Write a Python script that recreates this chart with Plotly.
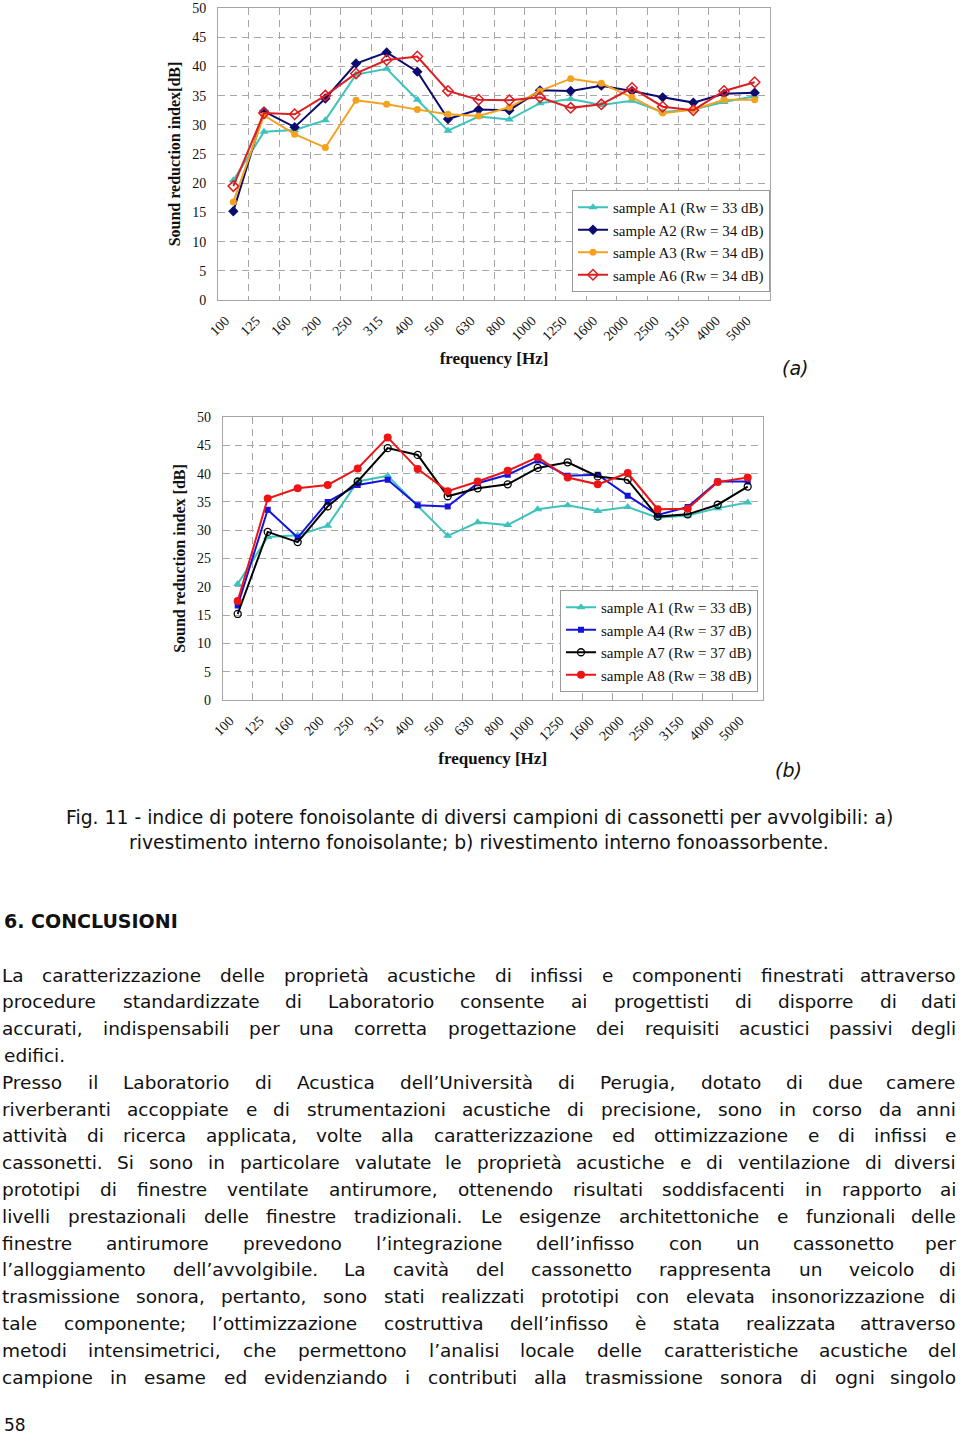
import plotly.graph_objects as go

W, H = 960, 1436

# ---------------- data ----------------
freqs = ['100', '125', '160', '200', '250', '315', '400', '500', '630', '800',
         '1000', '1250', '1600', '2000', '2500', '3150', '4000', '5000']

a1 = [20.5, 28.8, 29.1, 30.8, 38.6, 39.6, 34.3, 29.0, 31.4, 30.9,
      33.7, 34.4, 33.4, 34.1, 32.2, 32.6, 33.9, 34.9]
a2 = [15.2, 32.3, 29.6, 34.5, 40.5, 42.4, 39.1, 31.0, 32.6, 32.5,
      35.9, 35.8, 36.7, 35.8, 34.7, 33.8, 35.3, 35.5]
a3 = [16.8, 31.6, 28.4, 26.1, 34.2, 33.5, 32.6, 31.8, 31.5, 33.0,
      35.8, 37.9, 37.1, 34.7, 32.0, 32.6, 34.3, 34.3]
a6 = [19.5, 32.0, 31.8, 35.0, 38.8, 41.1, 41.7, 35.8, 34.3, 34.2,
      34.7, 32.9, 33.5, 36.3, 33.1, 32.5, 35.8, 37.3]

a4 = [16.7, 33.6, 28.7, 35.0, 38.0, 38.9, 34.4, 34.2, 38.3, 39.8,
      42.3, 39.6, 39.8, 36.1, 32.7, 34.1, 38.6, 38.6]
a7 = [15.2, 29.7, 27.9, 34.2, 38.6, 44.5, 43.3, 36.0, 37.4, 38.1,
      41.0, 42.0, 39.5, 38.9, 32.4, 32.8, 34.5, 37.7]
a8 = [17.5, 35.6, 37.4, 38.0, 40.9, 46.4, 40.8, 36.9, 38.6, 40.5,
      42.9, 39.3, 38.1, 40.1, 33.7, 33.8, 38.5, 39.3]

names_a = ['sample A1 (Rw = 33 dB)', 'sample A2 (Rw = 34 dB)',
           'sample A3 (Rw = 34 dB)', 'sample A6 (Rw = 34 dB)']
names_b = ['sample A1 (Rw = 33 dB)', 'sample A4 (Rw = 37 dB)',
           'sample A7 (Rw = 37 dB)', 'sample A8 (Rw = 38 dB)']

y_title_a = 'Sound reduction index[dB]'
y_title_b = 'Sound reduction index [dB]'
x_title = 'frequency [Hz]'

caption = ['Fig. 11 - indice di potere fonoisolante di diversi campioni di cassonetti per avvolgibili: a)',
           'rivestimento interno fonoisolante; b) rivestimento interno fonoassorbente.']
heading = '6. CONCLUSIONI'
body = [
    ('La caratterizzazione delle proprietà acustiche di infissi e componenti finestrati attraverso', True),
    ('procedure standardizzate di Laboratorio consente ai progettisti di disporre di dati', True),
    ('accurati, indispensabili per una corretta progettazione dei requisiti acustici passivi degli', True),
    ('edifici.', False),
    ('Presso il Laboratorio di Acustica dell’Università di Perugia, dotato di due camere', True),
    ('riverberanti accoppiate e di strumentazioni acustiche di precisione, sono in corso da anni', True),
    ('attività di ricerca applicata, volte alla caratterizzazione ed ottimizzazione e di infissi e', True),
    ('cassonetti. Si sono in particolare valutate le proprietà acustiche e di ventilazione di diversi', True),
    ('prototipi di finestre ventilate antirumore, ottenendo risultati soddisfacenti in rapporto ai', True),
    ('livelli prestazionali delle finestre tradizionali. Le esigenze architettoniche e funzionali delle', True),
    ('finestre antirumore prevedono l’integrazione dell’infisso con un cassonetto per', True),
    ('l’alloggiamento dell’avvolgibile. La cavità del cassonetto rappresenta un veicolo di', True),
    ('trasmissione sonora, pertanto, sono stati realizzati prototipi con elevata insonorizzazione di', True),
    ('tale componente; l’ottimizzazione costruttiva dell’infisso è stata realizzata attraverso', True),
    ('metodi intensimetrici, che permettono l’analisi locale delle caratteristiche acustiche del', True),
    ('campione in esame ed evidenziando i contributi alla trasmissione sonora di ogni singolo', True),
]
page_number = '58'

# ---------------- helpers ----------------
def px(x):
    return x / W

def py(y):
    return 1 - y / H

SERIF = 'Liberation Serif, Times New Roman, serif'
SANS = 'DejaVu Sans, sans-serif'

CW = {' ': .318, ',': .318, '.': .318, ';': .337, ':': .337, "'": .275, '’': .318,
      '-': .361, '(': .390, ')': .390,
      'a': .613, 'b': .635, 'c': .550, 'd': .635, 'e': .615, 'f': .352, 'g': .635,
      'h': .634, 'i': .278, 'j': .278, 'k': .579, 'l': .278, 'm': .974, 'n': .634,
      'o': .612, 'p': .635, 'q': .635, 'r': .411, 's': .521, 't': .392, 'u': .634,
      'v': .592, 'w': .818, 'x': .592, 'y': .592, 'z': .525,
      'à': .613, 'è': .615, 'é': .615, 'ù': .634, 'ì': .278, 'ò': .612,
      'A': .684, 'C': .698, 'L': .557, 'P': .603, 'S': .635, 'U': .732}

def tw(s, size):
    return sum(CW.get(c, .63) for c in s) * size

colors_a = ['#3cc3bc', '#0c0c6e', '#f4a21e', '#dc1e22']
symbols_a = ['triangle-up', 'diamond', 'circle', 'diamond-open']
sizes_a = [8, 8, 7, 8]
colors_b = ['#3cc3bc', '#1414dc', '#000000', '#ec1414']
symbols_b = ['triangle-up', 'square', 'circle-open', 'circle']
sizes_b = [8, 6, 7, 8]

xi = list(range(len(freqs)))
fig = go.Figure()

for k, (nm, ys) in enumerate(zip(names_a, [a1, a2, a3, a6])):
    fig.add_trace(go.Scatter(
        x=xi, y=ys, name=nm, mode='lines+markers', xaxis='x', yaxis='y',
        legend='legend',
        line=dict(color=colors_a[k], width=2),
        marker=dict(symbol=symbols_a[k], size=sizes_a[k], color=colors_a[k],
                    line=dict(color=colors_a[k], width=1.5 if 'open' in symbols_a[k] else 0))))

for k, (nm, ys) in enumerate(zip(names_b, [a1, a4, a7, a8])):
    fig.add_trace(go.Scatter(
        x=xi, y=ys, name=nm, mode='lines+markers', xaxis='x2', yaxis='y2',
        legend='legend2',
        line=dict(color=colors_b[k], width=2),
        marker=dict(symbol=symbols_b[k], size=sizes_b[k], color=colors_b[k],
                    line=dict(color=colors_b[k], width=1.3 if 'open' in symbols_b[k] else 0))))

GRID = '#a6a6a6'
DASH = '7px,5px'

def xaxis_cfg(dom, anchor):
    return dict(domain=dom, anchor=anchor, range=[-0.5, len(freqs) - 0.5],
                tickmode='array', tickvals=xi, ticktext=freqs, tickangle=-45,
                tickfont=dict(family=SERIF, size=14, color='#111'),
                ticklabelstandoff=6, ticklabelshift=-8,
                showgrid=False, zeroline=False, showline=True, linecolor=GRID,
                linewidth=1, mirror=True, ticks='', automargin=False,
                minor=dict(tick0=0.5, dtick=1, showgrid=True, gridcolor=GRID,
                           griddash=DASH, gridwidth=1),
                title=dict(text='<b>' + x_title + '</b>', standoff=9,
                           font=dict(family=SERIF, size=17, color='#111')))

def yaxis_cfg(dom, anchor, title):
    return dict(domain=dom, anchor=anchor, range=[0, 50], dtick=5, tick0=0,
                tickfont=dict(family=SERIF, size=14, color='#111'),
                showgrid=True, gridcolor=GRID, griddash=DASH, gridwidth=1,
                zeroline=False, showline=True, linecolor=GRID, linewidth=1,
                mirror=True, ticks='', ticklabelstandoff=8, automargin=False,
                title=dict(text='<b>' + title + '</b>', standoff=7,
                           font=dict(family=SERIF, size=16, color='#111')))

legend_common = dict(bgcolor='white', bordercolor='#9a9a9a', borderwidth=1,
                     font=dict(family=SERIF, size=15, color='#111'),
                     xanchor='right', yanchor='top',
                     itemwidth=30, traceorder='normal')

annotations = []
# caption
for i, line in enumerate(caption):
    annotations.append(dict(text=line, x=px(479), y=py(818 + 24 * i), xref='paper',
                            yref='paper', xanchor='center', yanchor='middle',
                            showarrow=False, font=dict(family=SANS, size=18.8, color='#111')))
# panel labels
annotations.append(dict(text='<i>(a)</i>', x=px(795), y=py(368), xref='paper', yref='paper',
                        xanchor='center', yanchor='middle', showarrow=False,
                        font=dict(family=SANS, size=19, color='#111')))
annotations.append(dict(text='<i>(b)</i>', x=px(788), y=py(770), xref='paper', yref='paper',
                        xanchor='center', yanchor='middle', showarrow=False,
                        font=dict(family=SANS, size=19, color='#111')))
# heading
annotations.append(dict(text='<b>' + heading + '</b>', x=px(2), y=py(921), xref='paper',
                        yref='paper', xanchor='left', yanchor='middle', showarrow=False,
                        font=dict(family=SANS, size=19, color='#111')))
# body text, justified word by word
BS = 18.5
L, R = 2, 958
for i, (line, just) in enumerate(body):
    yy = py(975 + 26.8 * i)
    if not just:
        annotations.append(dict(text=line, x=px(L), y=yy, xref='paper', yref='paper',
                                xanchor='left', yanchor='middle', showarrow=False,
                                font=dict(family=SANS, size=BS, color='#111')))
        continue
    words = line.split(' ')
    widths = [tw(w, BS) for w in words]
    gap = (R - L - sum(widths)) / (len(words) - 1)
    pos = L
    for j, (wd, wdt) in enumerate(zip(words, widths)):
        if j == len(words) - 1:
            annotations.append(dict(text=wd, x=px(R), y=yy, xref='paper', yref='paper',
                                    xanchor='right', yanchor='middle', showarrow=False,
                                    font=dict(family=SANS, size=BS, color='#111')))
        else:
            annotations.append(dict(text=wd, x=px(pos + wdt / 2), y=yy, xref='paper',
                                    yref='paper', xanchor='center', yanchor='middle',
                                    showarrow=False,
                                    font=dict(family=SANS, size=BS, color='#111')))
        pos += wdt + gap
# page number
annotations.append(dict(text=page_number, x=px(2), y=py(1425), xref='paper', yref='paper',
                        xanchor='left', yanchor='middle', showarrow=False,
                        font=dict(family=SANS, size=17, color='#111')))

fig.update_layout(
    width=W, height=H, margin=dict(l=0, r=0, t=0, b=0),
    paper_bgcolor='white', plot_bgcolor='white',
    xaxis=xaxis_cfg([px(218), px(770)], 'y'),
    yaxis=yaxis_cfg([py(300), py(8)], 'x', y_title_a),
    xaxis2=xaxis_cfg([px(222.7), px(762.7)], 'y2'),
    yaxis2=yaxis_cfg([py(700), py(417)], 'x2', y_title_b),
    legend=dict(x=px(770), y=py(190), **legend_common),
    legend2=dict(x=px(758), y=py(590), **legend_common),
    annotations=annotations,
    showlegend=True,
)

fig.write_html('out.html')
